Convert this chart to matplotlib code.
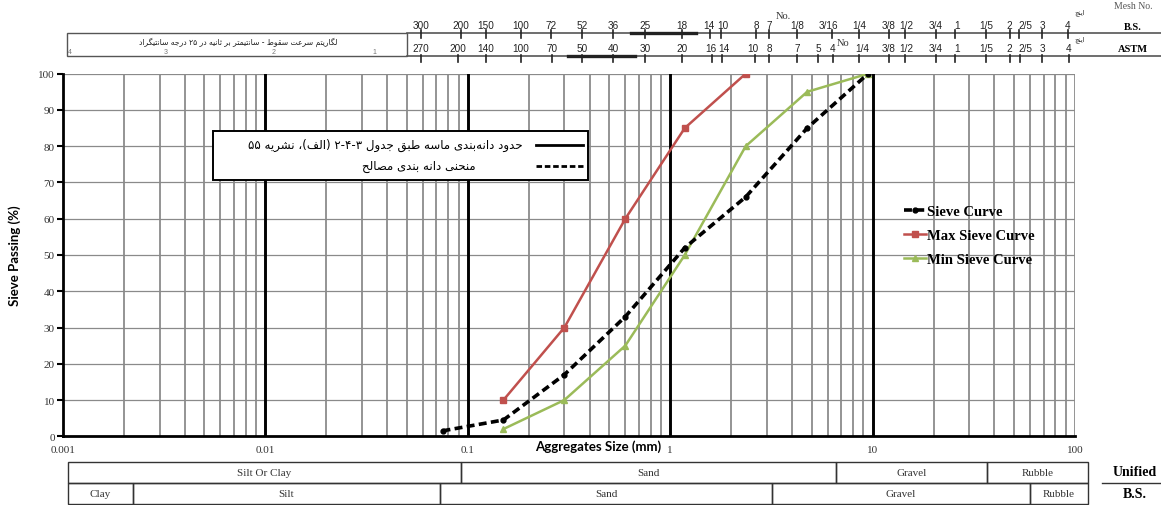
import re
import matplotlib
matplotlib.use('Agg')
import matplotlib.pyplot as plt
from matplotlib.patches import Rectangle
from matplotlib.ticker import NullLocator

# ---------------- data ----------------
sieve_sizes = [0.075, 0.15, 0.3, 0.6, 1.18, 2.36, 4.75, 9.5]
sieve_passing = [1.5, 4.5, 17, 33, 52, 66, 85, 100]
max_sizes = [0.15, 0.3, 0.6, 1.18, 2.36]
max_passing = [10, 30, 60, 85, 100]
min_sizes = [0.15, 0.3, 0.6, 1.18, 2.36, 4.75, 9.5]
min_passing = [2, 10, 25, 50, 80, 95, 100]

x_ticks = [0.001, 0.01, 0.1, 1, 10, 100]
x_tick_labels = ['0.001', '0.01', '0.1', '1', '10', '100']
y_ticks = list(range(0, 101, 10))

series_names = ['Sieve Curve', 'Max Sieve Curve', 'Min Sieve Curve']

bs_labels = ['300', '200', '150', '100', '72', '52', '36', '25', '18', '14', '10', '8', '7',
             '1/8', '3/16', '1/4', '3/8', '1/2', '3/4', '1', '1/5', '2', '2/5', '3', '4']
astm_labels = ['270', '200', '140', '100', '70', '50', '40', '30', '20', '16', '14', '10', '8',
               '7', '5', '4', '1/4', '3/8', '1/2', '3/4', '1', '1/5', '2', '2/5', '3', '4']

unified_cells = ['Silt Or Clay', 'Sand', 'Gravel', 'Rubble']
bs_cells = ['Clay', 'Silt', 'Sand', 'Gravel', 'Rubble']

fa_legend_solid = 'حدود دانه\u200cبندی ماسه طبق جدول ۲-۴-۳ (الف)، نشریه ۵۵'
fa_legend_dashed = 'منحنی دانه بندی مصالح'
fa_box_title = 'لگاریتم سرعت سقوط - سانتیمتر بر ثانیه در ۲۵ درجه سانتیگراد'
fa_inch = 'اینچ'

# ---------------- layout (pixel positions) ----------------
W, H = 1161, 506
bs_tick_pos = [421, 461, 486, 521, 551, 582, 613, 645, 682, 710, 721, 756, 769,
               797, 832, 859, 889, 905, 936, 955, 986, 1010, 1019, 1042, 1068]
bs_text_pos = [421, 461, 486, 521, 551, 582, 613, 645, 682, 709, 723, 756, 769,
               797, 828, 859, 889, 906, 936, 957, 986, 1009, 1025, 1042, 1068]
astm_tick_pos = [421, 458, 486, 521, 552, 582, 613, 645, 682, 712, 722, 755, 769,
                 797, 818, 833, 859, 889, 905, 936, 955, 986, 1010, 1020, 1042, 1069]
astm_text_pos = [421, 458, 486, 521, 552, 582, 613, 645, 682, 711, 724, 753, 769,
                 797, 818, 833, 862, 889, 906, 936, 957, 986, 1009, 1025, 1042, 1069]
unified_edges = [68, 461, 836, 987, 1088]
bs_edges = [68, 133, 440, 772, 1030, 1088]

# ---------------- minimal Persian shaping ----------------
RIGHT_JOIN = set('اآأإدذرزژو')
FORMS = {
    'ا': ('\uFE8D', '\uFE8E'), 'د': ('\uFEA9', '\uFEAA'), 'ر': ('\uFEAD', '\uFEAE'),
    'و': ('\uFEED', '\uFEEE'),
    'ب': ('\uFE8F', '\uFE90', '\uFE91', '\uFE92'), 'ت': ('\uFE95', '\uFE96', '\uFE97', '\uFE98'),
    'ث': ('\uFE99', '\uFE9A', '\uFE9B', '\uFE9C'), 'ج': ('\uFE9D', '\uFE9E', '\uFE9F', '\uFEA0'),
    'ح': ('\uFEA1', '\uFEA2', '\uFEA3', '\uFEA4'), 'س': ('\uFEB1', '\uFEB2', '\uFEB3', '\uFEB4'),
    'ش': ('\uFEB5', '\uFEB6', '\uFEB7', '\uFEB8'), 'ص': ('\uFEB9', '\uFEBA', '\uFEBB', '\uFEBC'),
    'ط': ('\uFEC1', '\uFEC2', '\uFEC3', '\uFEC4'), 'ع': ('\uFEC9', '\uFECA', '\uFECB', '\uFECC'),
    'ف': ('\uFED1', '\uFED2', '\uFED3', '\uFED4'), 'ق': ('\uFED5', '\uFED6', '\uFED7', '\uFED8'),
    'ل': ('\uFEDD', '\uFEDE', '\uFEDF', '\uFEE0'), 'م': ('\uFEE1', '\uFEE2', '\uFEE3', '\uFEE4'),
    'ن': ('\uFEE5', '\uFEE6', '\uFEE7', '\uFEE8'), 'ه': ('\uFEE9', '\uFEEA', '\uFEEB', '\uFEEC'),
    'ی': ('\uFBFC', '\uFBFD', '\uFBFE', '\uFBFF'), 'گ': ('\uFB92', '\uFB93', '\uFB94', '\uFB95'),
    'چ': ('\uFB7A', '\uFB7B', '\uFB7C', '\uFB7D'),
}


def fa(s):
    out = []
    n = len(s)
    for i, c in enumerate(s):
        if c not in FORMS:
            out.append(c)
            continue
        prev = s[i - 1] if i > 0 else ''
        nxt = s[i + 1] if i + 1 < n else ''
        jp = prev in FORMS and prev not in RIGHT_JOIN
        jn = c not in RIGHT_JOIN and nxt in FORMS
        f = FORMS[c]
        if len(f) == 2:
            out.append(f[1] if jp else f[0])
        else:
            out.append(f[3] if (jp and jn) else f[1] if jp else f[2] if jn else f[0])
    res = ''.join(out).replace('\u200c', '')
    toks = re.findall(r'[0-9\u06F0-\u06F9]+(?:[-.][0-9\u06F0-\u06F9]+)*|.', res)
    toks.reverse()
    mirror = {'(': ')', ')': '('}
    return ''.join(mirror.get(t, t) for t in toks)


# ---------------- figure ----------------
fig = plt.figure(figsize=(W / 100, H / 100), dpi=100)
ax_l, ax_r, ax_t, ax_b = 63, 1075, 74.7, 437.3
ax = fig.add_axes([ax_l / W, 1 - ax_b / H, (ax_r - ax_l) / W, (ax_b - ax_t) / H])
ax.set_xscale('log')
ax.set_xlim(0.001, 100)
ax.set_ylim(0, 100)

# grid
for dec in [0.001, 0.01, 0.1, 1, 10]:
    for k in range(2, 10):
        ax.axvline(k * dec, color='#767676', lw=1.1, zorder=1)
for dec in [0.01, 0.1, 1, 10]:
    ax.axvline(dec, color='black', lw=2.1, zorder=2)
ax.axvline(100, color='#767676', lw=1.1, zorder=1)
for yv in y_ticks[1:]:
    ax.axhline(yv, color='#8a8a8a', lw=0.9, zorder=1)

for s in ['top', 'right']:
    ax.spines[s].set_visible(False)
ax.spines['left'].set_linewidth(2)
ax.spines['bottom'].set_linewidth(2)

ax.set_yticks(y_ticks)
ax.set_yticklabels([str(v) for v in y_ticks], fontfamily='Liberation Serif', fontsize=8, color='#333333')
ax.tick_params(axis='y', direction='out', length=4, width=1.5, pad=2)
ax.set_xticks(x_ticks)
ax.set_xticklabels(x_tick_labels, fontfamily='Liberation Serif', fontsize=8, color='#333333')
ax.xaxis.set_minor_locator(NullLocator())
ax.tick_params(axis='x', length=0, pad=6)

l1, = ax.plot(sieve_sizes, sieve_passing, color='black', ls=(0, (2.2, 1.2)), lw=2.6,
              marker='o', ms=3.5, label=series_names[0], zorder=6)
l2, = ax.plot(max_sizes, max_passing, color='#C0504D', lw=1.8, marker='s', ms=5,
              label=series_names[1], zorder=5)
l3, = ax.plot(min_sizes, min_passing, color='#9BBB59', lw=1.8, marker='^', ms=5,
              label=series_names[2], zorder=5)

leg = ax.legend(handles=[l1, l2, l3], loc='upper left',
                bbox_to_anchor=(897 / W, 1 - 199 / H), bbox_transform=fig.transFigure,
                frameon=False, handlelength=1.5, handletextpad=0.05, labelspacing=0.72,
                borderpad=0, prop={'family': 'Liberation Serif', 'weight': 'bold', 'size': 10.5})

fig.text(15 / W, 1 - 256 / H, 'Sieve Passing (%)', rotation=90, ha='center', va='center',
         fontfamily='Lato', fontweight='bold', fontsize=9.5)
fig.text(598 / W, 1 - 447 / H, 'Aggregates Size (mm)', ha='center', va='center',
         fontfamily='Lato', fontweight='bold', fontsize=9.5)

# ---------------- overlay (decorations in pixel coords) ----------------
ov = fig.add_axes([0, 0, 1, 1])
ov.set_xlim(0, W)
ov.set_ylim(H, 0)
ov.axis('off')
ov.patch.set_alpha(0)

# Persian legend box
ov.add_patch(Rectangle((212.5, 131.5), 375.5, 49.5, facecolor='white', edgecolor='black', lw=1.4, zorder=10))
ov.plot([536, 583], [146, 146], color='black', lw=2, zorder=11)
ov.plot([536, 583], [167, 167], color='black', lw=2, ls=(0, (2, 1)), zorder=11)
ov.text(523, 145, fa(fa_legend_solid), ha='right', va='center', fontsize=8.5,
        fontfamily=['DejaVu Sans'], zorder=11)
ov.text(476, 166, fa(fa_legend_dashed), ha='right', va='center', fontsize=8.5,
        fontfamily=['DejaVu Sans'], zorder=11)

# top scale strip
line_c = '#555555'
ov.plot([407, W], [34, 34], color=line_c, lw=1.2)
ov.plot([407, W], [57, 57], color=line_c, lw=1.2)
ov.plot([631, 696], [34, 34], color='#222222', lw=2.4)
ov.plot([568, 635], [57, 57], color='#222222', lw=2.4)
ov.add_patch(Rectangle((67, 34), 340, 23, facecolor='none', edgecolor=line_c, lw=1.0))
for lab, xt, xp in zip(bs_labels, bs_text_pos, bs_tick_pos):
    ov.plot([xp, xp], [30.5, 38.5], color='#222222', lw=1.2)
    ov.text(xt, 26, lab, ha='center', va='center', fontsize=7.2, fontfamily='Liberation Sans', color='#222222')
for lab, xt, xp in zip(astm_labels, astm_text_pos, astm_tick_pos):
    ov.plot([xp, xp], [56, 63], color='#222222', lw=1.2)
    ov.text(xt, 49, lab, ha='center', va='center', fontsize=7.2, fontfamily='Liberation Sans', color='#222222')
ov.text(783, 16, 'No.', ha='center', va='center', fontsize=7.5, fontfamily='Liberation Serif', color='#333333')
ov.text(843, 43, 'No', ha='center', va='center', fontsize=7.5, fontfamily='Liberation Serif', color='#333333')
ov.text(1080, 13, fa(fa_inch), ha='center', va='center', fontsize=5, fontfamily=['DejaVu Sans'], color='#333333')
ov.text(1080, 40, fa(fa_inch), ha='center', va='center', fontsize=5, fontfamily=['DejaVu Sans'], color='#333333')
ov.text(1133, 6, 'Mesh No.', ha='center', va='center', fontsize=7, fontfamily='Liberation Serif', color='#555555')
ov.text(1133, 27, 'B.S.', ha='center', va='center', fontsize=7.5, fontweight='bold', fontfamily='Liberation Serif')
ov.text(1133, 49, 'ASTM', ha='center', va='center', fontsize=7.5, fontweight='bold', fontfamily='Liberation Serif')
ov.text(238, 42, fa(fa_box_title), ha='center', va='center', fontsize=5.5, fontfamily=['DejaVu Sans'], color='#222222')
for lab, xp in zip(['4', '3', '2', '1'], [70, 166, 274, 374]):
    ov.text(xp, 52, lab, ha='center', va='center', fontsize=5, fontfamily='Liberation Sans', color='#777777')

# bottom classification tables
tab_c = '#333333'
for edges, cells, y0, y1 in [(unified_edges, unified_cells, 463, 484), (bs_edges, bs_cells, 484, 505)]:
    for i, lab in enumerate(cells):
        x0, x1 = edges[i], edges[i + 1]
        ov.add_patch(Rectangle((x0, y0), x1 - x0, y1 - y0, facecolor='none', edgecolor=tab_c, lw=1.0))
        ov.text((x0 + x1) / 2, (y0 + y1) / 2, lab, ha='center', va='center', fontsize=8,
                fontfamily='Liberation Serif', color='#333333')
ov.text(1135, 473, 'Unified', ha='center', va='center', fontsize=10, fontweight='bold', fontfamily='Liberation Serif')
ov.plot([1102, 1160], [484, 484], color=tab_c, lw=1.0)
ov.text(1135, 495, 'B.S.', ha='center', va='center', fontsize=10, fontweight='bold', fontfamily='Liberation Serif')

fig.savefig('out.png', dpi=100)
